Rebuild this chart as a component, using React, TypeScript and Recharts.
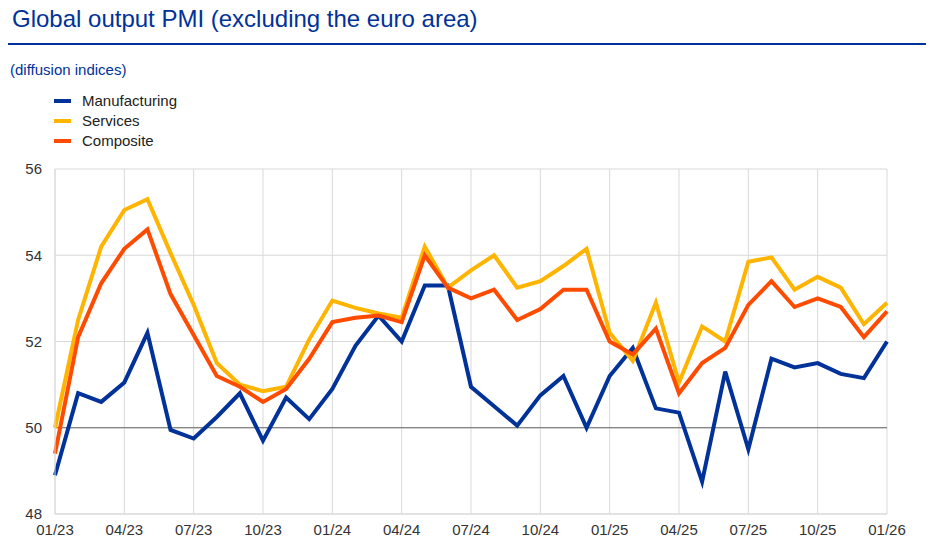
import React from 'react';
import {
  LineChart,
  Line,
  XAxis,
  YAxis,
  CartesianGrid,
  ReferenceLine,
} from 'recharts';

const months = [
  '01/23', '02/23', '03/23', '04/23', '05/23', '06/23', '07/23', '08/23', '09/23', '10/23', '11/23', '12/23',
  '01/24', '02/24', '03/24', '04/24', '05/24', '06/24', '07/24', '08/24', '09/24', '10/24', '11/24', '12/24',
  '01/25', '02/25', '03/25', '04/25', '05/25', '06/25', '07/25', '08/25', '09/25', '10/25', '11/25', '12/25',
  '01/26',
];

const manufacturing = [
  48.9, 50.8, 50.6, 51.05, 52.2, 49.95, 49.75, 50.25, 50.8, 49.7, 50.7, 50.2,
  50.9, 51.9, 52.6, 52.0, 53.3, 53.3, 50.95, 50.5, 50.05, 50.75, 51.2, 50.0,
  51.2, 51.85, 50.45, 50.35, 48.75, 51.3, 49.5, 51.6, 51.4, 51.5, 51.25, 51.15,
  52.0,
];

const services = [
  50.0, 52.5, 54.2, 55.05, 55.3, 54.05, 52.85, 51.5, 51.0, 50.85, 50.95, 52.05,
  52.95, 52.78, 52.65, 52.55, 54.2, 53.25, 53.65, 54.0, 53.25, 53.4, 53.75, 54.15,
  52.2, 51.55, 52.9, 51.05, 52.35, 52.0, 53.85, 53.95, 53.2, 53.5, 53.25, 52.4,
  52.9,
];

const composite = [
  49.4, 52.1, 53.35, 54.15, 54.6, 53.1, 52.15, 51.2, 50.95, 50.6, 50.9, 51.6,
  52.45, 52.55, 52.6, 52.45, 54.0, 53.25, 53.0, 53.2, 52.5, 52.75, 53.2, 53.2,
  52.0, 51.7, 52.3, 50.8, 51.5, 51.85, 52.85, 53.4, 52.8, 53.0, 52.8, 52.1,
  52.7,
];

const yTicks = [48, 50, 52, 54, 56];
const xTicks = [0, 3, 6, 9, 12, 15, 18, 21, 24, 27, 30, 33, 36];

const seriesInfo = [
  { key: 'manufacturing', name: 'Manufacturing', color: '#003299' },
  { key: 'services', name: 'Services', color: '#ffb400' },
  { key: 'composite', name: 'Composite', color: '#ff4b00' },
];

const data = months.map((m, i) => ({
  idx: i,
  month: m,
  manufacturing: manufacturing[i],
  services: services[i],
  composite: composite[i],
}));

const font = 'Arial, "Liberation Sans", sans-serif';

export default function App() {
  return (
    <div style={{ position: 'relative', width: 936, height: 550, fontFamily: font, background: '#fff' }}>
      <style>{'body{margin:0}'}</style>
      <div style={{ position: 'absolute', left: 12, top: 5, fontSize: 24, color: '#003299' }}>
        Global output PMI (excluding the euro area)
      </div>
      <div style={{ position: 'absolute', left: 8, top: 43, width: 918, height: 2, background: '#003299' }} />
      <div style={{ position: 'absolute', left: 10, top: 61, fontSize: 15, color: '#003299' }}>
        (diffusion indices)
      </div>
      {seriesInfo.map((s, i) => (
        <div
          key={s.key}
          style={{ position: 'absolute', left: 54, top: 91 + i * 20, fontSize: 15, lineHeight: '20px', color: '#222', display: 'flex', alignItems: 'center' }}
        >
          <span style={{ display: 'inline-block', width: 17, height: 4, background: s.color, marginRight: 11 }} />
          {s.name}
        </div>
      ))}
      <div style={{ position: 'absolute', left: 0, top: 0 }}>
        <LineChart width={936} height={550} data={data} margin={{ top: 169, right: 49, left: 10, bottom: 6 }}>
          <CartesianGrid stroke="#d9d9d9" strokeWidth={1} />
          <XAxis
            dataKey="idx"
            type="number"
            domain={[0, 36]}
            ticks={xTicks}
            tickFormatter={(v: number) => months[v]}
            tick={{ fontSize: 15, fill: '#333', fontFamily: font }}
            tickLine={false}
            axisLine={{ stroke: '#d9d9d9' }}
            tickMargin={4}
            interval={0}
          />
          <YAxis
            domain={[48, 56]}
            ticks={yTicks}
            width={45}
            tick={{ fontSize: 15, fill: '#333', fontFamily: font }}
            tickLine={false}
            axisLine={{ stroke: '#d9d9d9' }}
            tickMargin={7}
          />
          <ReferenceLine y={50} stroke="#666" strokeWidth={1} />
          {seriesInfo.map((s) => (
            <Line
              key={s.key}
              type="linear"
              dataKey={s.key}
              name={s.name}
              stroke={s.color}
              strokeWidth={4}
              dot={false}
              isAnimationActive={false}
            />
          ))}
        </LineChart>
      </div>
    </div>
  );
}
